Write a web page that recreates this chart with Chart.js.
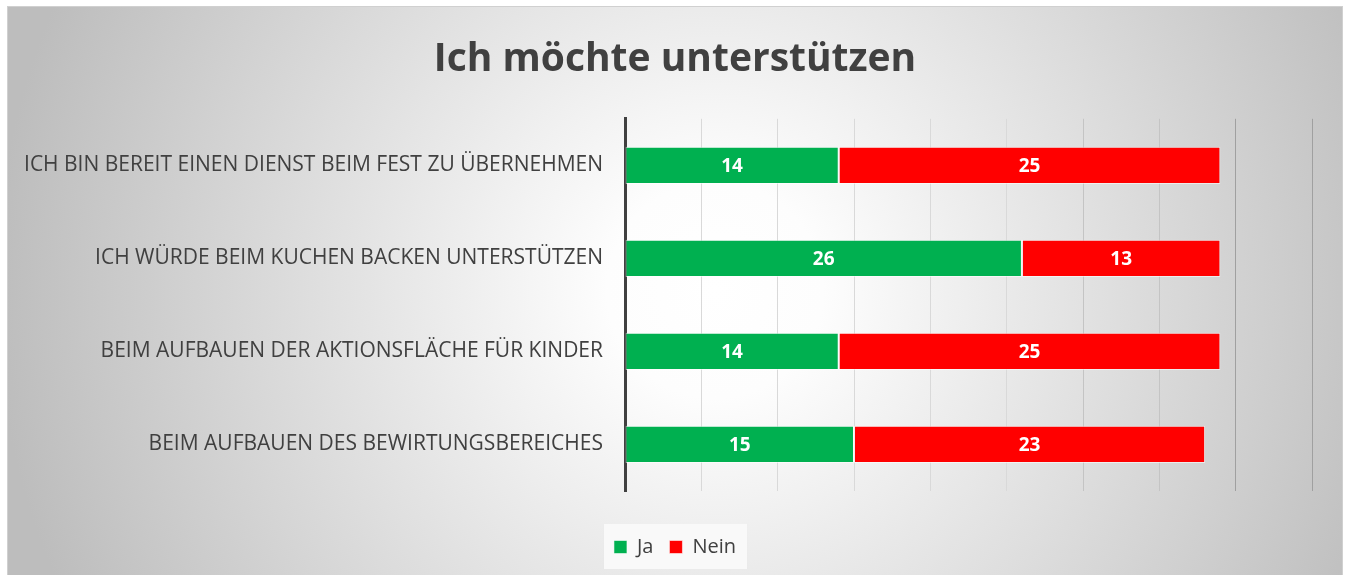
<!DOCTYPE html>
<html>
<head>
<meta charset="utf-8">
<script src="https://cdn.jsdelivr.net/npm/chart.js@4/dist/chart.umd.min.js"></script>
<style>
html,body{margin:0;padding:0;background:#fff;}
canvas{display:block;}
</style>
</head>
<body>
<canvas id="c" width="1350" height="575"></canvas>
<script>
const title = "Ich möchte unterstützen";
const categories = [
  "ICH BIN BEREIT EINEN DIENST BEIM FEST ZU ÜBERNEHMEN",
  "ICH WÜRDE BEIM KUCHEN BACKEN UNTERSTÜTZEN",
  "BEIM AUFBAUEN DER AKTIONSFLÄCHE FÜR KINDER",
  "BEIM AUFBAUEN DES BEWIRTUNGSBEREICHES"
];
const seriesNames = ["Ja", "Nein"];
const ja = [14, 26, 14, 15];
const nein = [25, 13, 25, 23];
const xMin = 0, xMax = 45, xStep = 5;

const FONT = "'Open Sans', 'DejaVu Sans', sans-serif";

const bgPlugin = {
  id: 'bg',
  beforeDraw(chart) {
    const ctx = chart.ctx;
    ctx.save();
    ctx.fillStyle = '#ffffff';
    ctx.fillRect(0, 0, chart.width, chart.height);
    const x0 = 7, y0 = 6, w = 1336, h = 575;
    const g = ctx.createRadialGradient(715, 290, 0, 715, 290, 720);
    g.addColorStop(0, '#ffffff');
    g.addColorStop(0.15, '#fdfdfd');
    g.addColorStop(1, '#bdbdbd');
    ctx.fillStyle = g;
    ctx.fillRect(x0, y0, w, h);
    ctx.strokeStyle = '#d0d0d0';
    ctx.lineWidth = 1;
    ctx.strokeRect(x0 + 0.5, y0 + 0.5, w - 1, h);
    // legend background
    const lg = chart.legend;
    if (lg && lg.legendHitBoxes && lg.legendHitBoxes.length) {
      const hb = lg.legendHitBoxes;
      const l = hb[0].left - 10;
      const r = hb[hb.length - 1].left + hb[hb.length - 1].width + 11;
      const cy = hb[0].top + hb[0].height / 2;
      ctx.fillStyle = 'rgba(250,250,250,0.92)';
      ctx.fillRect(l, cy - 23, r - l, 45);
    }
    ctx.restore();
  }
};

const labelPlugin = {
  id: 'vals',
  afterDatasetsDraw(chart) {
    const ctx = chart.ctx;
    ctx.save();
    ctx.font = "bold 19px " + FONT;
    ctx.fillStyle = '#ffffff';
    ctx.textAlign = 'center';
    ctx.textBaseline = 'middle';
    chart.data.datasets.forEach((ds, di) => {
      const meta = chart.getDatasetMeta(di);
      meta.data.forEach((el, i) => {
        const cx = (el.x + el.base) / 2;
        ctx.fillText(String(ds.data[i]), cx, el.y + 1);
      });
    });
    ctx.restore();
  }
};

new Chart(document.getElementById('c'), {
  type: 'bar',
  data: {
    labels: categories,
    datasets: [
      { label: seriesNames[0], data: ja, backgroundColor: '#00b050', borderColor: 'rgba(255,255,255,0.55)', borderWidth: 1, borderSkipped: false, barPercentage: 0.8, categoryPercentage: 0.5 },
      { label: seriesNames[1], data: nein, backgroundColor: '#ff0000', borderColor: 'rgba(255,255,255,0.55)', borderWidth: 1, borderSkipped: false, barPercentage: 0.8, categoryPercentage: 0.5 }
    ]
  },
  options: {
    indexAxis: 'y',
    responsive: false,
    animation: false,
    layout: { padding: { left: 38, right: 38, top: 0, bottom: 8 } },
    plugins: {
      title: {
        display: true,
        text: title,
        color: '#404040',
        font: { family: FONT, size: 39, weight: 'bold', lineHeight: 1.2 },
        padding: { top: 36, bottom: 36 }
      },
      legend: {
        display: true,
        position: 'bottom',
        labels: {
          color: '#404040',
          font: { family: FONT, size: 20 },
          boxWidth: 13,
          boxHeight: 13,
          padding: 16
        }
      },
      tooltip: { enabled: false }
    },
    scales: {
      x: {
        stacked: true,
        min: xMin, max: xMax,
        ticks: { display: false, stepSize: xStep },
        border: { display: false },
        grid: {
          drawTicks: false,
          lineWidth: 1,
          color: (c) => (c.index >= 8 ? '#a0a0a0' : (c.index >= 6 ? '#c4c4c4' : '#d9d9d9'))
        },
        afterFit(s) { s.height = 30; }
      },
      y: {
        stacked: true,
        ticks: { color: '#404040', font: { family: FONT, size: 21 }, padding: 22 },
        grid: { display: false, drawTicks: false },
        border: { display: true, color: '#404040', width: 3 },
        afterFit(s) {
          s.width = 587;
          s._computeLabelArea = () => undefined;
        }
      }
    }
  },
  plugins: [bgPlugin, labelPlugin]
});
</script>
</body>
</html>
